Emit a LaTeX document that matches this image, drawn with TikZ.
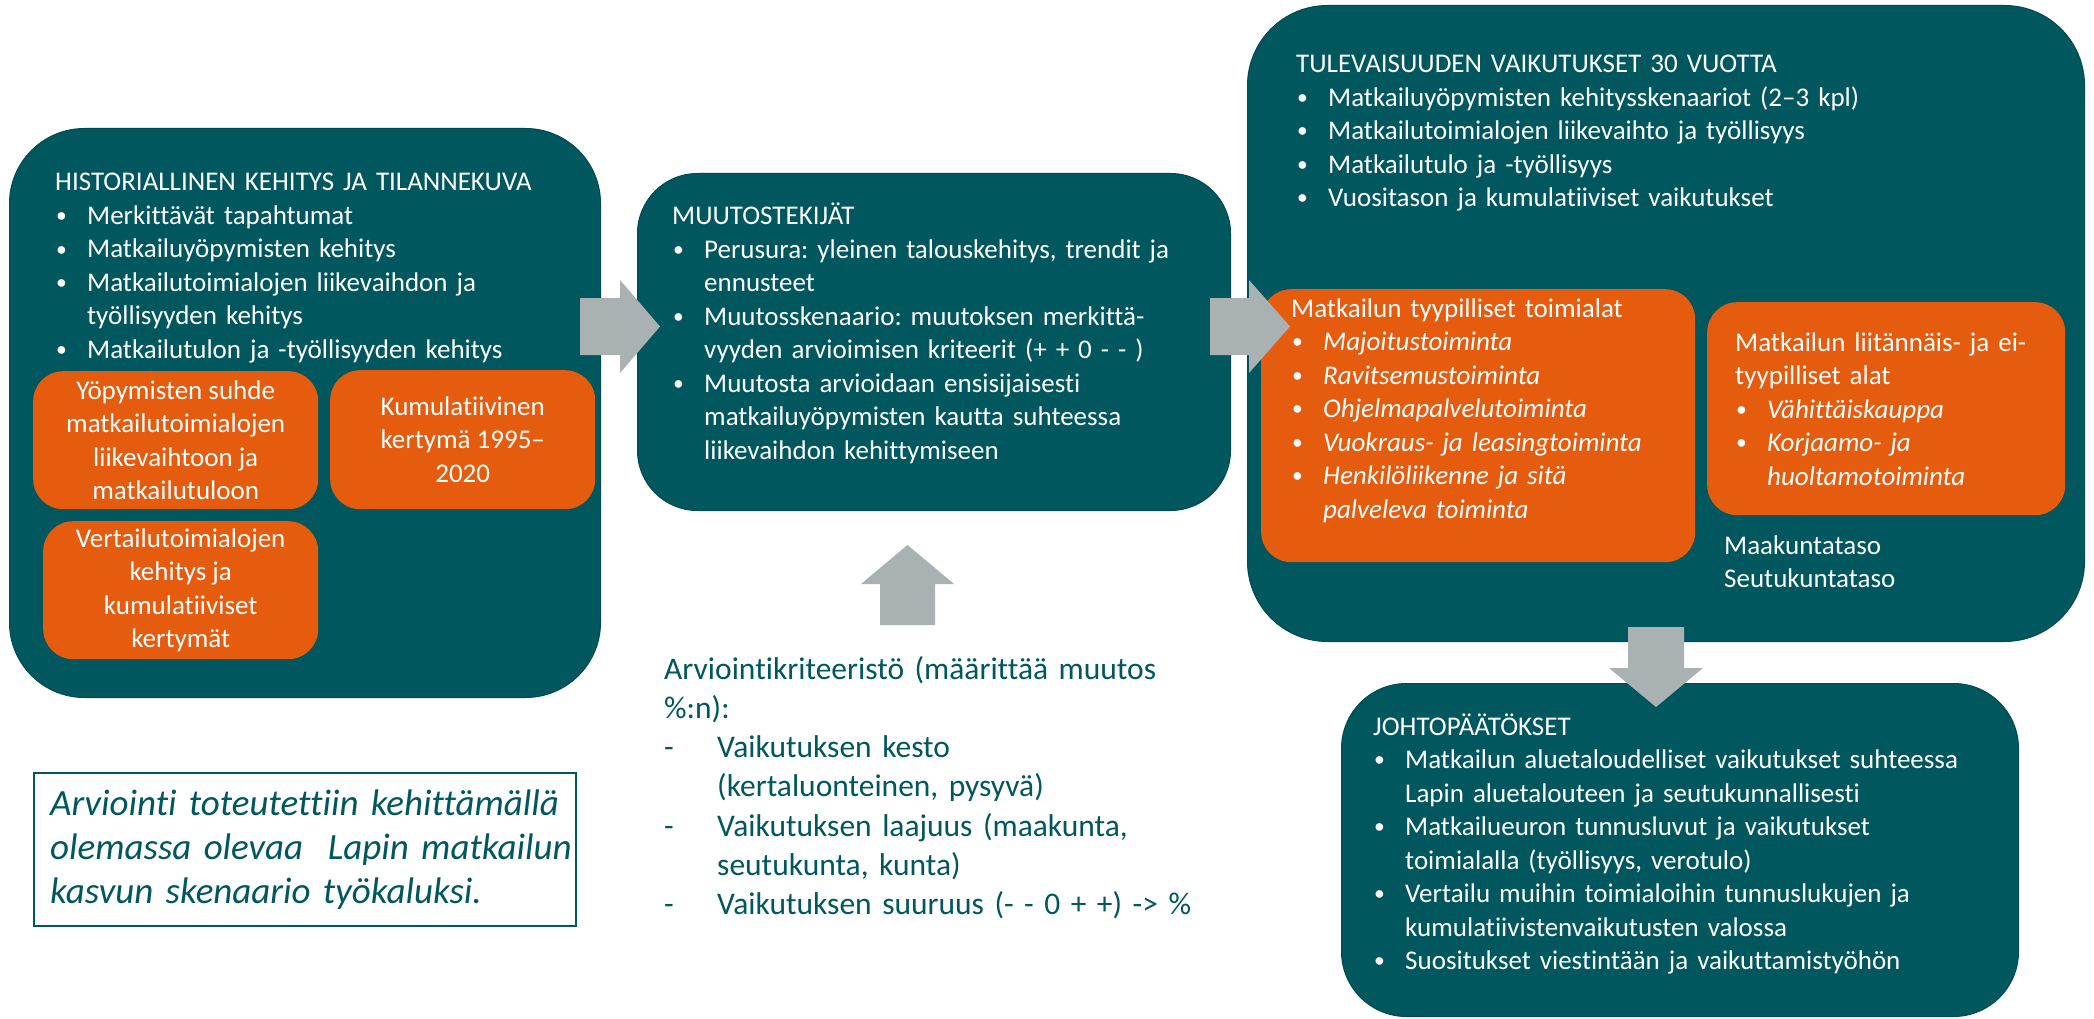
\documentclass[tikz,border=0pt]{standalone}
\usepackage{fontspec}
\setmainfont{Carlito}[Ligatures=TeX, RawFeature={-liga;-clig;-calt;-dlig}]
\definecolor{tealc}{HTML}{00575E}
\definecolor{orng}{HTML}{E65C0F}
\definecolor{arrgray}{HTML}{A9B1B3}
\newcommand\bl{\makebox[32pt][l]{\hspace{1pt}\raisebox{1.8pt}{\scalebox{0.8}{•}}}}
\newcommand\ind{\hspace*{32pt}}
\newcommand\dsh{\makebox[53pt][l]{-}}
\newcommand\dind{\hspace*{53pt}}
\tikzset{
  tealbox/.style={fill=tealc, draw=tealc!85!black, line width=1pt, rounded corners=#1, anchor=north west, inner sep=0pt},
  orangebox/.style={fill=orng, draw=none, rounded corners=30pt, anchor=north west, inner sep=0pt},
  body/.style={font=\fontsize{27}{33.5}\selectfont, text=white, inner sep=0pt, anchor=base west, align=left, text width=800pt},
  otext/.style={font=\fontsize{27}{33.5}\selectfont, text=white, inner sep=0pt, align=center},
  blockarrow/.style={fill=arrgray, draw=none},
}
\begin{document}
\frenchspacing
\begin{tikzpicture}[x=1pt,y=-1pt]
\useasboundingbox (0,0) rectangle (2094,1019);
\fill[white] (0,0) rectangle (2094,1019);

% main boxes
\node[tealbox=75pt, minimum width=591pt, minimum height=569pt] (hist) at (9,128) {};
\node[tealbox=60pt, minimum width=593pt, minimum height=337pt] (muutos) at (637,173) {};
\node[tealbox=80pt, minimum width=837pt, minimum height=636pt] (tulev) at (1247,5) {};
\node[tealbox=65pt, minimum width=677pt, minimum height=333pt] (johto) at (1341,683) {};

% orange boxes
\node[orangebox, minimum width=285pt, minimum height=138pt] (oa) at (33,371) {};
\node[orangebox, minimum width=265pt, minimum height=139pt] (ob) at (330,370) {};
\node[orangebox, minimum width=275pt, minimum height=138pt] (oc) at (43,521) {};
\node[orangebox, minimum width=434pt, minimum height=273pt] (od) at (1261,289) {};
\node[orangebox, minimum width=358pt, minimum height=213pt] (oe) at (1707,302) {};

% note box
\node[draw=tealc, line width=1.5pt, fill=white, anchor=north west, minimum width=542pt, minimum height=153pt, inner sep=0pt] (note) at (33,772) {};

% texts
\node[body] (histtxt) at (55,191) {HISTORIALLINEN KEHITYS JA TILANNEKUVA\\
\bl Merkittävät tapahtumat\\
\bl Matkailuyöpymisten kehitys\\
\bl Matkailutoimialojen liikevaihdon ja\\
\ind työllisyyden kehitys\\
\bl Matkailutulon ja -työllisyyden kehitys};

\node[otext] (oatxt) at (oa.center) {Yöpymisten suhde\\matkailutoimialojen\\liikevaihtoon ja\\matkailutuloon};
\node[otext] (obtxt) at (ob.center) {Kumulatiivinen\\kertymä 1995–\\2020};
\node[otext] (octxt) at (oc.center) {Vertailutoimialojen\\kehitys ja\\kumulatiiviset\\kertymät};

\node[body] (muutxt) at (672,225) {MUUTOSTEKIJÄT\\
\bl Perusura: yleinen talouskehitys, trendit ja\\
\ind ennusteet\\
\bl Muutosskenaario: muutoksen merkittä-\\
\ind vyyden arvioimisen kriteerit (+ + 0 - - )\\
\bl Muutosta arvioidaan ensisijaisesti\\
\ind matkailuyöpymisten kautta suhteessa\\
\ind liikevaihdon kehittymiseen};

\node[body] (tultxt) at (1296,72.6) {TULEVAISUUDEN VAIKUTUKSET 30 VUOTTA\\
\bl Matkailuyöpymisten kehitysskenaariot (2–3 kpl)\\
\bl Matkailutoimialojen liikevaihto ja työllisyys\\
\bl Matkailutulo ja -työllisyys\\
\bl Vuositason ja kumulatiiviset vaikutukset};

\node[body] (odtxt) at (1291,317) {Matkailun tyypilliset toimialat\\
\bl\textit{Majoitustoiminta}\\
\bl\textit{Ravitsemustoiminta}\\
\bl\textit{Ohjelmapalvelutoiminta}\\
\bl\textit{Vuokraus- ja leasingtoiminta}\\
\bl\textit{Henkilöliikenne ja sitä}\\
\ind\textit{palveleva toiminta}};

\node[body] (oetxt) at (1735,351) {Matkailun liitännäis- ja ei-\\
tyypilliset alat\\
\bl\textit{Vähittäiskauppa}\\
\bl\textit{Korjaamo- ja}\\
\ind\textit{huoltamotoiminta}};

\node[body] (tasot) at (1724,554) {Maakuntataso\\Seutukuntataso};

\node[body] (johtxt) at (1373,735) {JOHTOPÄÄTÖKSET\\
\bl Matkailun aluetaloudelliset vaikutukset suhteessa\\
\ind Lapin aluetalouteen ja seutukunnallisesti\\
\bl Matkailueuron tunnusluvut ja vaikutukset\\
\ind toimialalla (työllisyys, verotulo)\\
\bl Vertailu muihin toimialoihin tunnuslukujen ja\\
\ind kumulatiivistenvaikutusten valossa\\
\bl Suositukset viestintään ja vaikuttamistyöhön};

\node[body, text=tealc, font=\fontsize{31.5}{39.3}\selectfont] (kriteeri) at (664,679) {Arviointikriteeristö (määrittää muutos\\
\%:n):\\
\dsh Vaikutuksen kesto\\
\dind (kertaluonteinen, pysyvä)\\
\dsh Vaikutuksen laajuus (maakunta,\\
\dind seutukunta, kunta)\\
\dsh Vaikutuksen suuruus (- - 0 + +) -> \%};

\node[body, text=tealc, font=\fontsize{37}{44}\selectfont\itshape] (notetxt) at (50,815) {Arviointi toteutettiin kehittämällä\\
olemassa olevaa\ \ Lapin matkailun\\
kasvun skenaario työkaluksi.};

% block arrows
\fill[blockarrow] (580,298) -- (620,298) -- (620,280) -- (660,326.5) -- (620,373) -- (620,355) -- (580,355) -- cycle;
\fill[blockarrow] (1210,298) -- (1249,298) -- (1249,280) -- (1290,326.5) -- (1249,373) -- (1249,355) -- (1210,355) -- cycle;
\fill[blockarrow] (880,625) -- (880,584) -- (861,584) -- (907.5,545) -- (954,584) -- (935,584) -- (935,625) -- cycle;
\fill[blockarrow] (1628,627) -- (1684,627) -- (1684,668) -- (1703,668) -- (1656,707) -- (1609,668) -- (1628,668) -- cycle;
\end{tikzpicture}
\end{document}
